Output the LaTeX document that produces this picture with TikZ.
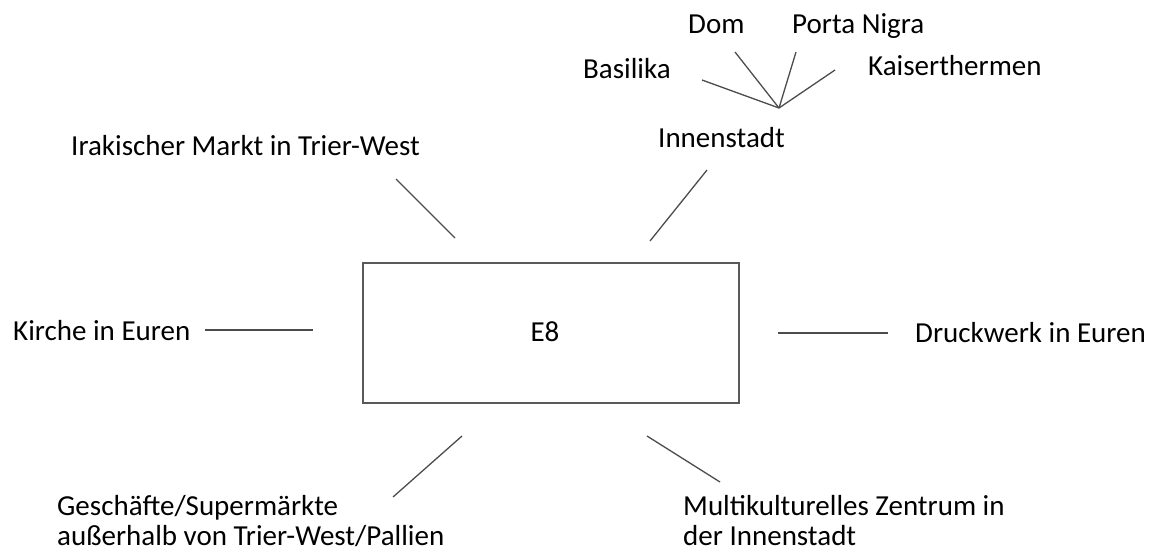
\documentclass[tikz,border=0pt]{standalone}
\usepackage{fontspec}
\setmainfont{Carlito}
\begin{document}
\begin{tikzpicture}[x=1pt,y=-1pt,
  lbl/.style={inner sep=0pt, anchor=base west, font=\fontsize{29}{30}\selectfont},
  twoline/.style={lbl, align=left, text depth=0pt},
  link/.style={draw=black!70, line width=1.3pt},
  box/.style={draw=black!65, line width=1.6pt}]
  \useasboundingbox (0,0) rectangle (1151,552);

  % central box
  \draw[box] (363,263) rectangle (739,403);
  \node[lbl, anchor=base] (e8) at (545,341) {E8};

  % labels
  \node[lbl] (kirche) at (13,340) {Kirche in Euren};
  \node[lbl] (druck) at (915,342) {Druckwerk in Euren};
  \node[lbl] (irak) at (71,155) {Irakischer Markt in Trier-West};
  \node[lbl] (innen) at (658,147) {Innenstadt};
  \node[lbl] (basil) at (583,78) {Basilika};
  \node[lbl] (dom) at (688,33) {Dom};
  \node[lbl] (porta) at (792,33) {Porta Nigra};
  \node[lbl] (kaiser) at (868,75) {Kaiserthermen};
  % two-line labels: base anchor sits on the last line
  \node[twoline] (gesch) at (57,545) {Geschäfte/Supermärkte\\außerhalb von Trier-West/Pallien};
  \node[twoline] (multi) at (683,545) {Multikulturelles Zentrum in\\der Innenstadt};

  % connector end points
  \coordinate (hub) at (779,108);
  \coordinate (kA) at (205,330); \coordinate (kB) at (313,330);
  \coordinate (dA) at (778,333); \coordinate (dB) at (888,333);
  \coordinate (iA) at (396,179); \coordinate (iB) at (455,238);
  \coordinate (nA) at (707,170); \coordinate (nB) at (650,241);
  \coordinate (gA) at (462,436); \coordinate (gB) at (393,497);
  \coordinate (mA) at (647,436); \coordinate (mB) at (720,482);
  \coordinate (bA) at (702,80);
  \coordinate (oA) at (735,52);
  \coordinate (pA) at (796,52);
  \coordinate (tA) at (835,70);

  % connectors
  \draw[link] (kA) -- (kB);
  \draw[link] (dA) -- (dB);
  \draw[link] (iA) -- (iB);
  \draw[link] (nA) -- (nB);
  \draw[link] (gA) -- (gB);
  \draw[link] (mA) -- (mB);
  \draw[link] (bA) -- (hub);
  \draw[link] (oA) -- (hub);
  \draw[link] (pA) -- (hub);
  \draw[link] (tA) -- (hub);
\end{tikzpicture}
\end{document}
